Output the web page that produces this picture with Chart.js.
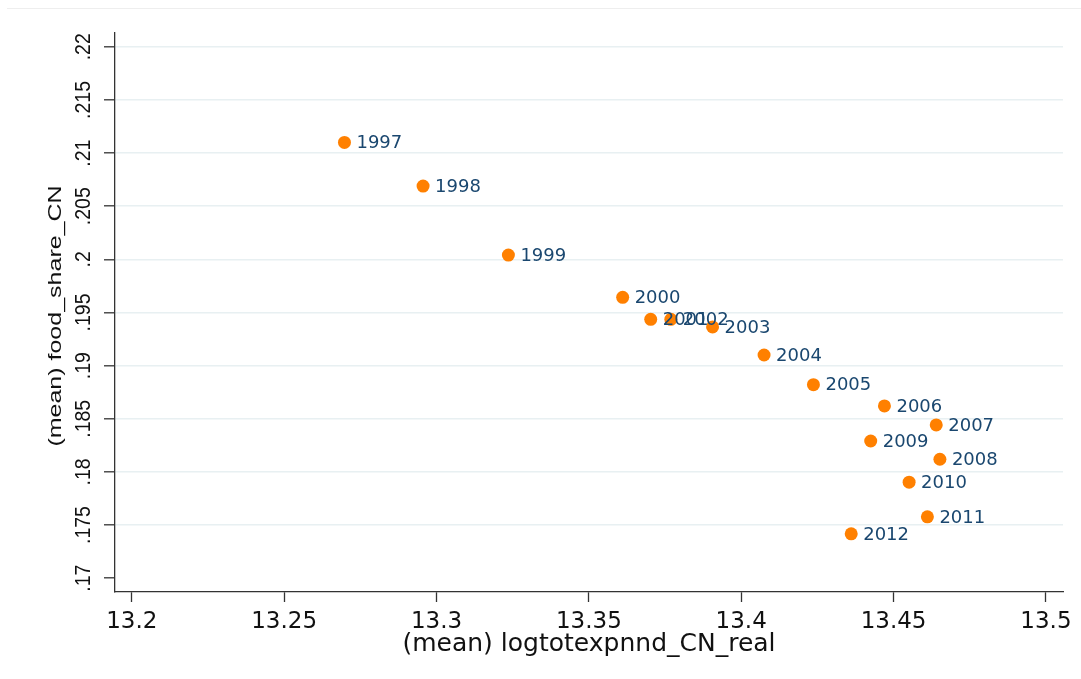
<!DOCTYPE html>
<html>
<head>
<meta charset="utf-8">
<script src="https://cdn.jsdelivr.net/npm/chart.js@4.4.1/dist/chart.umd.min.js"></script>
<style>
  html, body { margin: 0; padding: 0; background: #fff; }
  #wrap { position: relative; width: 1081px; height: 679px; }
  #frame { position: absolute; left: 7px; right: 0; top: 8px; border-top: 1px solid #eeeeee; }
  canvas { position: absolute; left: 0; top: 0; }
</style>
</head>
<body>
<div id="wrap">
  <div id="frame"></div>
  <canvas id="chart" width="1081" height="679"></canvas>
</div>
<script>
// yearly means: log real total expenditure vs. food share
const years = ['1997', '1998', '1999', '2000', '2001', '2002', '2003', '2004',
               '2005', '2006', '2007', '2008', '2009', '2010', '2011', '2012'];
const logExpend = [13.2698, 13.2956, 13.3236, 13.3611, 13.3703, 13.3769, 13.3906, 13.4075,
                   13.4237, 13.4470, 13.4640, 13.4652, 13.4425, 13.4551, 13.4611, 13.4361];
const foodShare = [0.2110, 0.2069, 0.2004, 0.19643, 0.19436, 0.19436, 0.19364, 0.1910,
                   0.18821, 0.18621, 0.18442, 0.18119, 0.18291, 0.17903, 0.17577, 0.17417];

const xTicks = [13.2, 13.25, 13.3, 13.35, 13.4, 13.45, 13.5];
const xTickLabels = ['13.2', '13.25', '13.3', '13.35', '13.4', '13.45', '13.5'];
const yTicks = [0.17, 0.175, 0.18, 0.185, 0.19, 0.195, 0.2, 0.205, 0.21, 0.215, 0.22];
const yTickLabels = ['.17', '.175', '.18', '.185', '.19', '.195', '.2', '.205', '.21', '.215', '.22'];

const xTitle = '(mean) logtotexpnnd_CN_real';
const yTitle = '(mean) food_share_CN';

const points = logExpend.map((x, i) => ({ x: x, y: foodShare[i] }));

// year labels beside each marker
const markerLabels = {
  id: 'markerLabels',
  afterDatasetsDraw(chart) {
    const ctx = chart.ctx;
    const meta = chart.getDatasetMeta(0);
    ctx.save();
    ctx.font = '18px "DejaVu Sans"';
    ctx.fillStyle = '#1a476f';
    ctx.textAlign = 'left';
    ctx.textBaseline = 'middle';
    meta.data.forEach((pt, i) => {
      ctx.fillText(years[i], pt.x + 12, pt.y + 1);
    });
    ctx.restore();
  }
};

// draw rotated text at (x, y), sx widens/narrows it on screen
function rotatedText(ctx, text, x, y, sx) {
  ctx.save();
  ctx.translate(x, y);
  ctx.scale(sx, 1);
  ctx.rotate(-Math.PI / 2);
  ctx.fillText(text, 0, 0);
  ctx.restore();
}

// rotated y tick labels and y title
const yAxisText = {
  id: 'yAxisText',
  afterDraw(chart) {
    const ctx = chart.ctx;
    const ys = chart.scales.y;
    ctx.save();
    ctx.fillStyle = '#111';
    ctx.textAlign = 'center';
    ctx.textBaseline = 'middle';
    ctx.font = '19.5px "Liberation Sans"';
    yTicks.forEach((v, i) => {
      rotatedText(ctx, yTickLabels[i], 84.5, ys.getPixelForValue(v), 1.1);
    });
    ctx.font = '25px "Liberation Sans"';
    rotatedText(ctx, yTitle, 56.5, 316, 0.72);
    ctx.restore();
  }
};

new Chart(document.getElementById('chart'), {
  type: 'scatter',
  data: {
    datasets: [{
      data: points,
      backgroundColor: '#ff8000',
      borderWidth: 0,
      pointRadius: 6.5,
      pointHoverRadius: 6.5
    }]
  },
  options: {
    responsive: false,
    animation: false,
    layout: { padding: { top: 33, right: 18, left: 0, bottom: 0 } },
    plugins: {
      legend: { display: false },
      tooltip: { enabled: false }
    },
    scales: {
      x: {
        type: 'linear',
        min: 13.1945,
        max: 13.5056,
        afterFit: s => { s.height = 87; },
        afterBuildTicks: s => { s.ticks = xTicks.map(v => ({ value: v })); },
        border: { color: '#333', width: 1.3 },
        grid: { drawOnChartArea: false, drawTicks: true, tickLength: 10, tickColor: '#333', tickWidth: 1.3 },
        ticks: {
          padding: 6,
          color: '#111',
          font: { family: 'DejaVu Sans', size: 23 },
          maxRotation: 0,
          callback: (v, i) => xTickLabels[i]
        },
        title: {
          display: true,
          text: xTitle,
          color: '#111',
          font: { family: 'DejaVu Sans', size: 25 },
          padding: { top: 0, bottom: 20 }
        }
      },
      y: {
        type: 'linear',
        min: 0.1687,
        max: 0.2213,
        afterFit: s => { s.width = 115; },
        afterBuildTicks: s => { s.ticks = yTicks.map(v => ({ value: v })); },
        border: { color: '#333', width: 1.3 },
        grid: {
          color: c => (c.tick && c.tick.value === 0.17 ? 'rgba(0,0,0,0)' : '#e8f0f2'),
          lineWidth: 1.6,
          drawTicks: true,
          tickLength: 11,
          tickColor: '#333',
          tickWidth: 1.3
        },
        ticks: { display: false }
      }
    }
  },
  plugins: [markerLabels, yAxisText]
});
</script>
</body>
</html>
